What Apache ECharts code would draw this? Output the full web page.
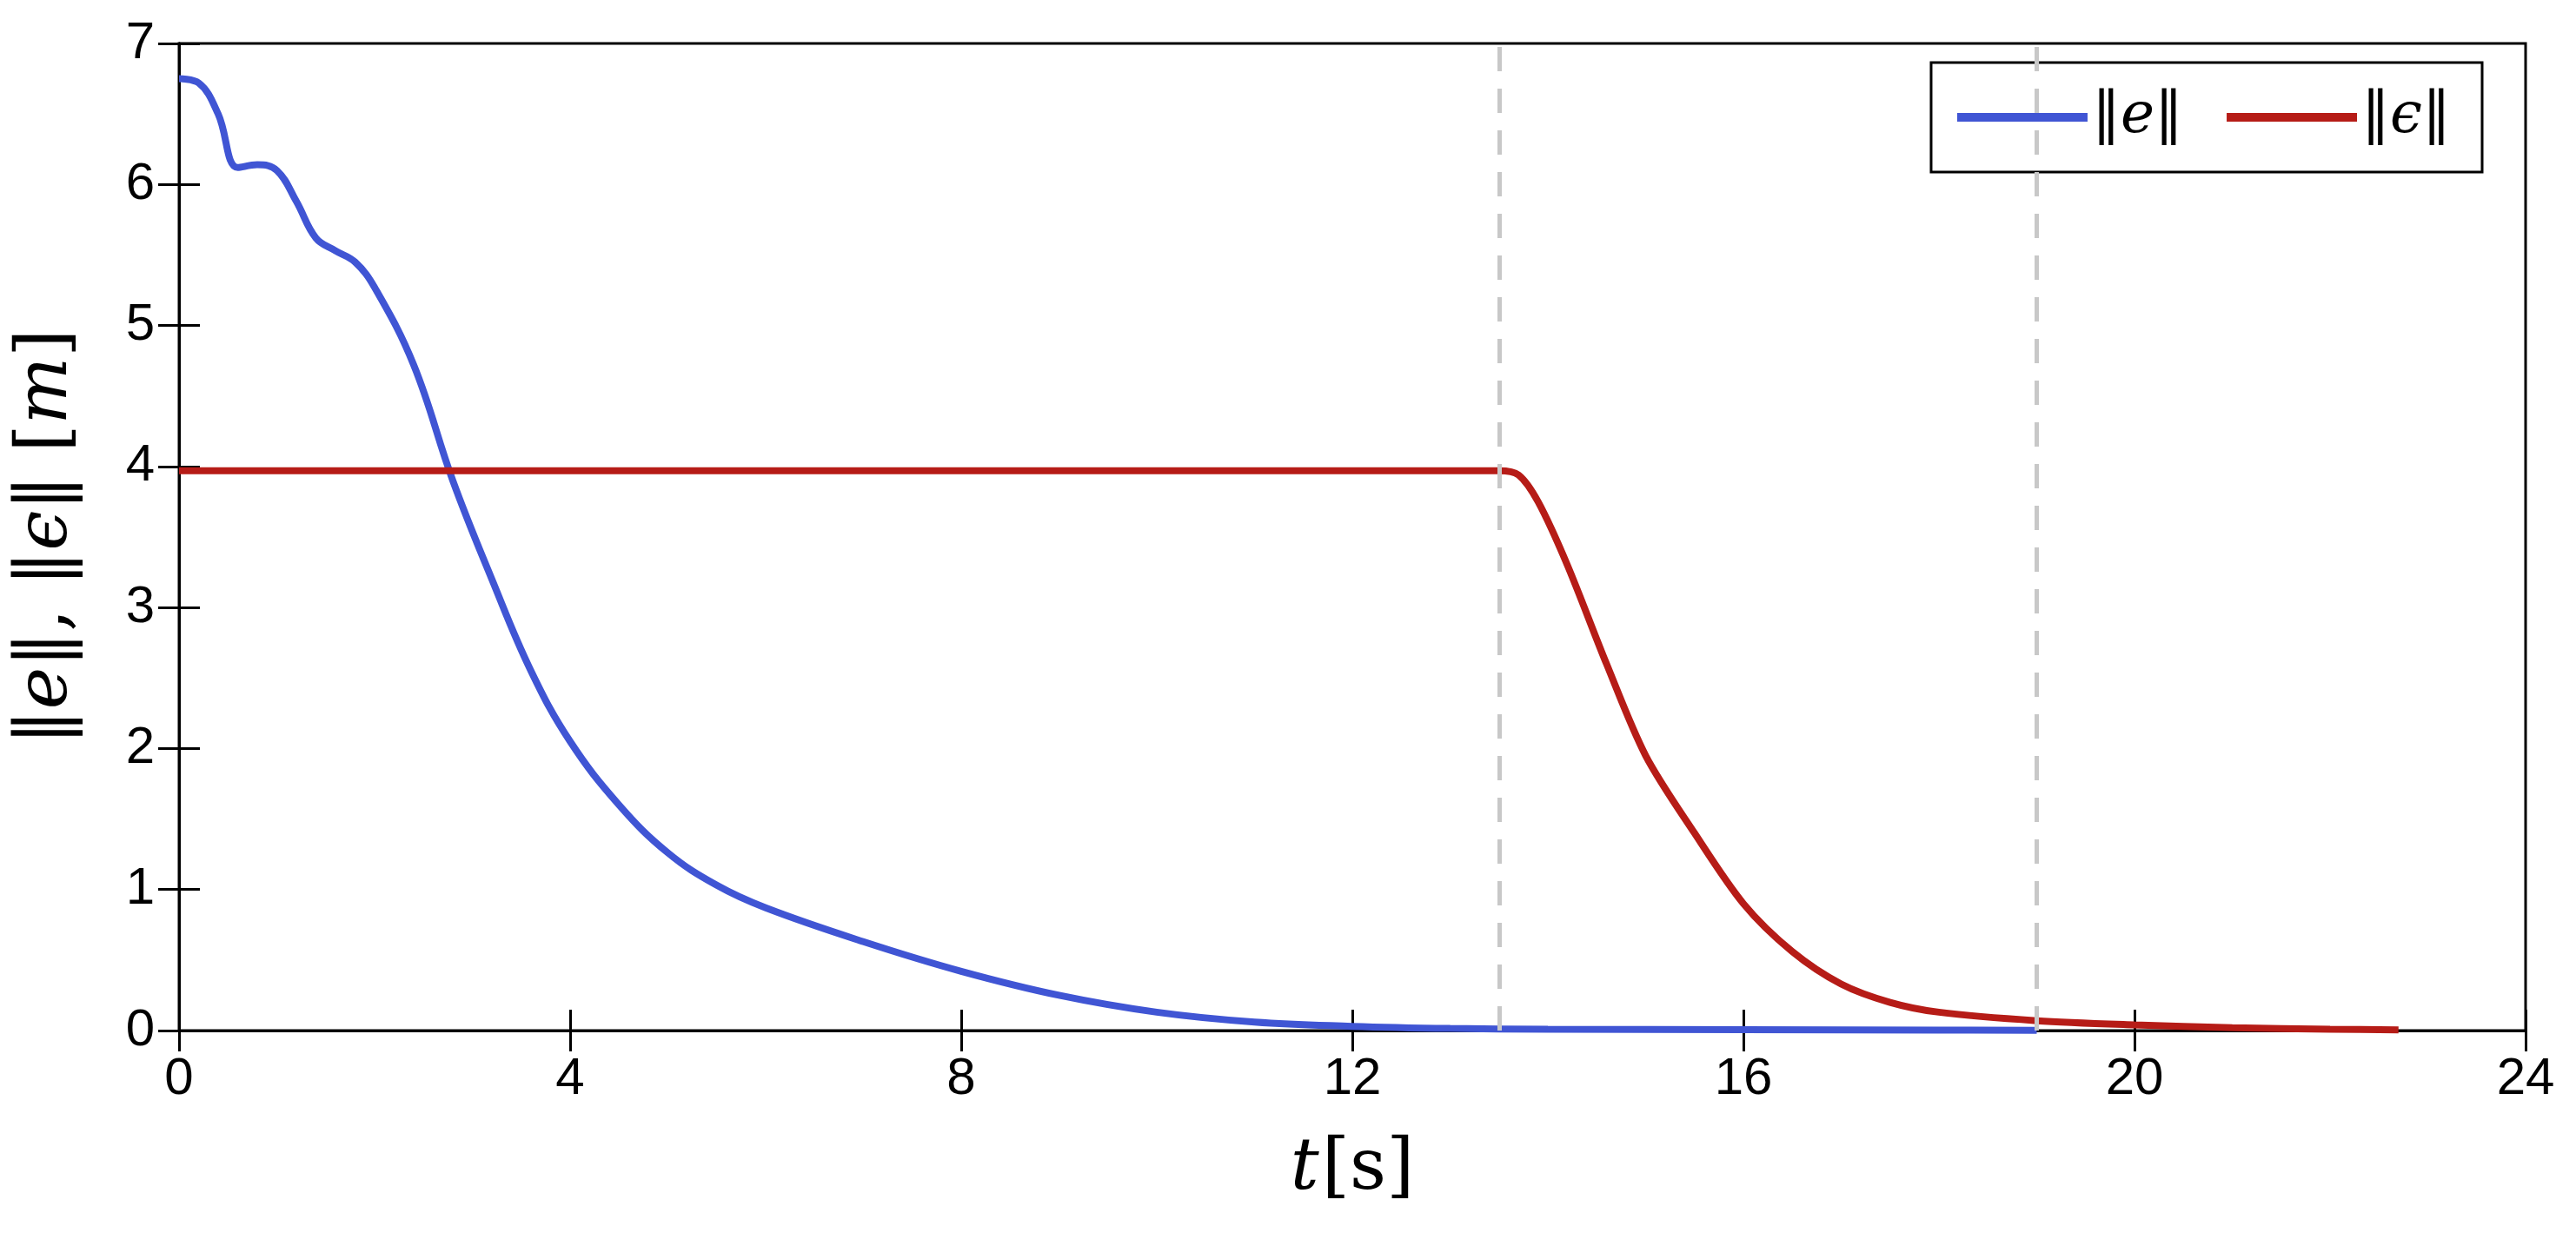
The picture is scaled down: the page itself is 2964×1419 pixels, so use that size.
<!DOCTYPE html>
<html><head><meta charset="utf-8">
<script src="https://cdn.jsdelivr.net/npm/echarts@6/dist/echarts.min.js"></script>
<style>html,body{margin:0;padding:0;background:#fff}#c{width:2964px;height:1419px}</style>
</head><body><div id="c"></div>
<script>
const eNorm = [[0,6.75],[0.2,6.72],[0.4,6.5],[0.6,6.12],[0.8,6.14],[1.0,6.1],[1.2,5.88],[1.4,5.62],[1.6,5.53],[1.8,5.45],[2.0,5.27],[2.4,4.72],[2.8,3.9],[3.2,3.2],[3.6,2.55],[4.0,2.05],[4.5,1.6],[5,1.26],[5.5,1.03],[6,0.87],[7,0.63],[8,0.42],[9,0.25],[10,0.13],[11,0.06],[12,0.03],[13,0.015],[14,0.01],[16,0.006],[18,0.003],[19,0.001]];
const epsNorm = [[0,3.97],[13.5,3.97],[13.7,3.94],[13.9,3.75],[14.2,3.3],[14.6,2.6],[15,1.95],[15.5,1.4],[16,0.9],[16.5,0.56],[17,0.33],[17.5,0.2],[18,0.13],[19,0.07],[20,0.04],[21,0.02],[22,0.01],[22.7,0.005]];
const vLines = [13.5, 19.0];
const c = echarts.init(document.getElementById('c'));
const tickStyle = {show:true,inside:true,length:24,lineStyle:{color:'#000',width:3}};
const titleRich = {i:{fontFamily:'DejaVu Serif',fontStyle:'italic',fontSize:82,color:'#000'},r:{fontFamily:'DejaVu Serif',fontSize:82,color:'#000'}};
c.setOption({
  animation:false,
  grid:{left:206,right:58,top:50,bottom:233,show:true,borderColor:'#000',borderWidth:3},
  legend:{right:108,top:72,orient:'horizontal',itemWidth:150,itemHeight:10,itemGap:50,
    borderColor:'#000',borderWidth:3,padding:[30,36,30,30],backgroundColor:'#fff',
    textStyle:{fontFamily:'DejaVu Serif',fontStyle:'italic',fontSize:66,color:'#000'},
    data:[{name:'‖e‖',icon:'rect'},{name:'‖ϵ‖',icon:'rect'}]},
  xAxis:[{type:'value',min:0,max:24,interval:4,axisLine:{lineStyle:{color:'#000',width:3}},axisTick:tickStyle,splitLine:{show:false},
    axisLabel:{fontSize:60,color:'#000',fontFamily:'Liberation Sans',margin:26},
    name:'{i|t} {r|[s]}',nameLocation:'middle',nameGap:120,nameTextStyle:{rich:titleRich}},
    {type:'value',position:'top',min:0,max:24,interval:4,axisLine:{show:true,lineStyle:{color:'#000',width:3}},axisTick:tickStyle,axisLabel:{show:false},splitLine:{show:false}}],
  yAxis:[{type:'value',min:0,max:7,interval:1,axisLine:{show:true,lineStyle:{color:'#000',width:3}},axisTick:tickStyle,splitLine:{show:false},
    axisLabel:{fontSize:60,color:'#000',fontFamily:'Liberation Sans',margin:28},
    name:'{r|‖}{i|e}{r|‖, ‖}{i|ϵ}{r|‖ [}{i|m}{r|]}',nameLocation:'middle',nameGap:110,nameTextStyle:{rich:titleRich}},
    {type:'value',position:'right',min:0,max:7,interval:1,axisLine:{show:true,lineStyle:{color:'#000',width:3}},axisTick:tickStyle,axisLabel:{show:false},splitLine:{show:false}}],
  series:[
    {name:'‖e‖',type:'line',data:eNorm,smooth:0.4,showSymbol:false,lineStyle:{color:'#4055d4',width:8},itemStyle:{color:'#4055d4'}},
    {name:'‖ϵ‖',type:'line',data:epsNorm,smooth:0.3,showSymbol:false,lineStyle:{color:'#b61c17',width:8},itemStyle:{color:'#b61c17'},
     markLine:{symbol:'none',silent:true,label:{show:false},lineStyle:{color:'#c8c8c8',type:[28,20],width:5},data:vLines.map(v=>({xAxis:v}))}}
  ]
});
</script></body></html>
